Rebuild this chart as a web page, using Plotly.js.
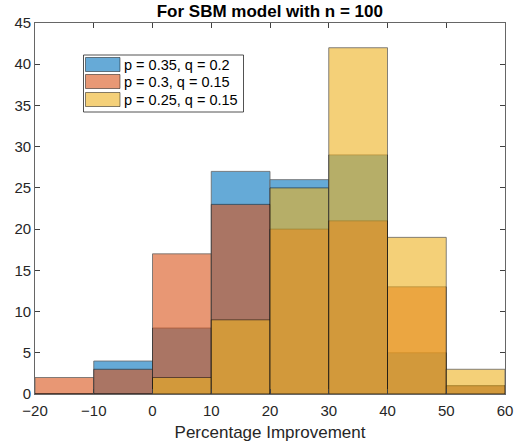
<!DOCTYPE html>
<html>
<head>
<meta charset="utf-8">
<script src="https://cdn.plot.ly/plotly-3.0.1.min.js"></script>
<style>html,body{margin:0;padding:0;background:#fff;}#chart{width:514px;height:445px;}</style>
</head>
<body>
<div id="chart"></div>
<script>
var binCenters = [-15, -5, 5, 15, 25, 35, 45, 55];
var seriesNames = ["p = 0.35, q = 0.2", "p = 0.3, q = 0.15", "p = 0.25, q = 0.15"];
var blueCounts = [0, 4, 8, 27, 26, 29, 5, 1];
var orangeCounts = [2, 3, 17, 23, 20, 21, 13, 1];
var yellowCounts = [0, 0, 2, 9, 25, 42, 19, 3];
var xTicks = [-20, -10, 0, 10, 20, 30, 40, 50, 60];
var yTicks = [0, 5, 10, 15, 20, 25, 30, 35, 40, 45];
var rgb = [[0,114,189], [217,83,25], [237,177,32]];
var allCounts = [blueCounts, orangeCounts, yellowCounts];

function rgba(c, a){ return "rgba(" + c.join(",") + "," + a + ")"; }

var traces = allCounts.map(function(c, i){
  return {
    type: "bar", x: binCenters, y: c, width: 10, name: seriesNames[i],
    opacity: 0.6, showlegend: false,
    marker: {color: rgba(rgb[i], 1), line: {color: "rgb(0,0,0)", width: 0.8}}
  };
});

// plot area in pixels
var L = 35, R = 505, T = 23, B = 394;
function px(x){ return (x - L) / (R - L); }
function py(y){ return (B - y) / (B - T); }

var shapes = [{type: "rect", xref: "paper", yref: "paper", x0: px(83.5), x1: px(243.5), y0: py(112), y1: py(55),
  fillcolor: "#fff", line: {color: "#262626", width: 0.8}, layer: "above"}];
var annotations = [];
var rowY = [64.5, 81.5, 99.5];
seriesNames.forEach(function(n, i){
  shapes.push({type: "rect", xref: "paper", yref: "paper", x0: px(85.5), x1: px(120), y0: py(rowY[i] + 7), y1: py(rowY[i] - 7),
    fillcolor: rgba(rgb[i], 0.6), line: {color: "rgba(0,0,0,0.6)", width: 0.8}, layer: "above"});
  annotations.push({xref: "paper", yref: "paper", x: px(122), y: py(rowY[i]), xanchor: "left", yanchor: "middle",
    text: n, showarrow: false, font: {size: 14.5, color: "#000"}});
});

var layout = {
  width: 514, height: 445,
  margin: {l: L, r: 514 - R, t: T, b: 445 - B},
  barmode: "overlay",
  paper_bgcolor: "#fff", plot_bgcolor: "#fff",
  font: {family: "Liberation Sans, Arial, sans-serif", size: 15, color: "#262626"},
  title: {text: "<b>For SBM model with n = 100</b>", x: 0.525, xanchor: "center", y: 0.975, yanchor: "middle", font: {size: 17, color: "#000"}},
  xaxis: {range: [-20, 60], tickvals: xTicks, ticks: "inside", ticklen: 5, tickcolor: "#404040", ticklabelstandoff: 3,
          showline: true, linecolor: "#404040", linewidth: 0.8, mirror: "ticks", showgrid: false, zeroline: false,
          title: {text: "Percentage Improvement", font: {size: 17, color: "#262626"}, standoff: 8}, tickfont: {size: 15}},
  yaxis: {range: [0, 45], tickvals: yTicks, ticks: "inside", ticklen: 5, tickcolor: "#404040",
          showline: true, linecolor: "#404040", linewidth: 0.8, mirror: "ticks", showgrid: false, zeroline: false, tickfont: {size: 15}},
  showlegend: false,
  shapes: shapes,
  annotations: annotations
};
Plotly.newPlot("chart", traces, layout, {displayModeBar: false, staticPlot: true});
</script>
</body>
</html>
